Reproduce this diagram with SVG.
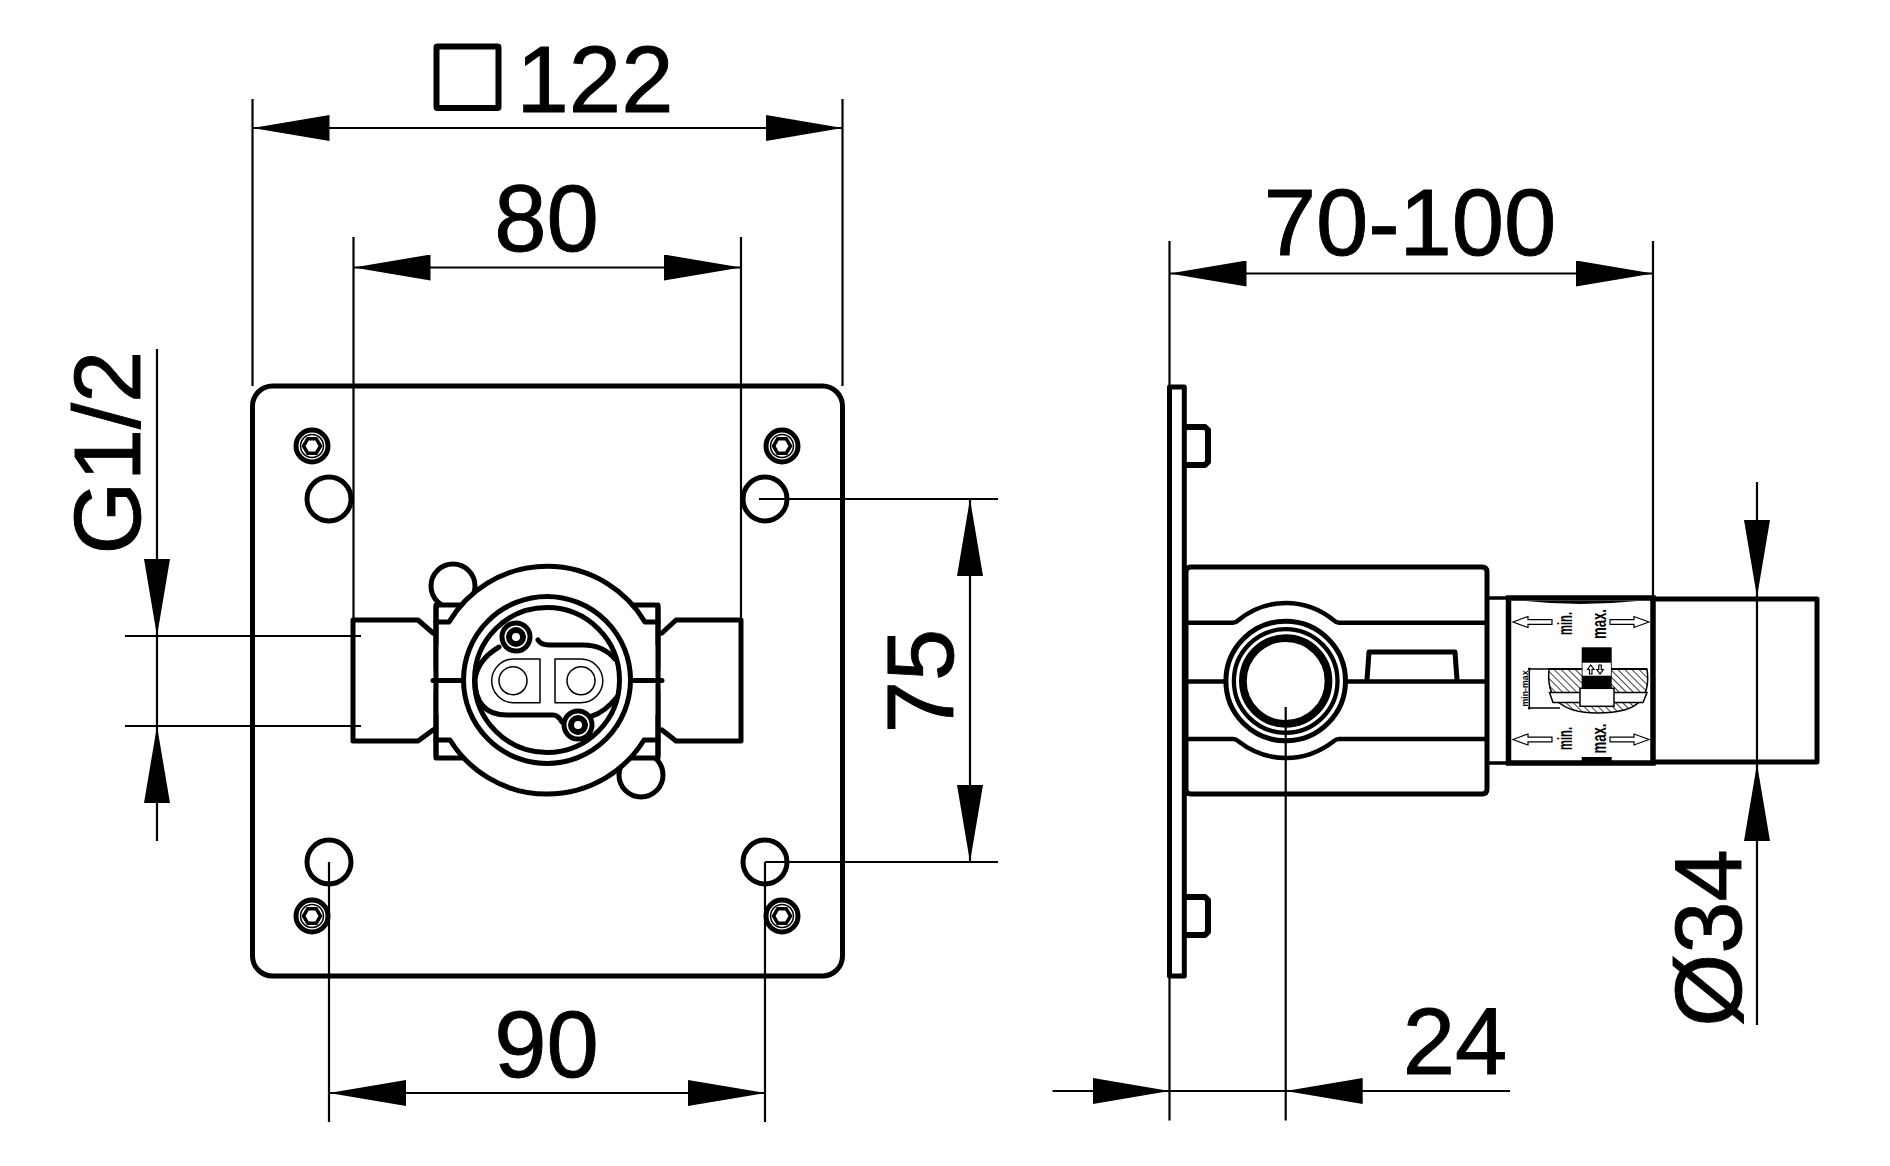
<svg xmlns="http://www.w3.org/2000/svg" width="1890" height="1166" viewBox="0 0 1890 1166">
<style>
.s{fill:none;stroke:#000;stroke-width:5;stroke-linejoin:round;stroke-linecap:round}
.w{fill:#fff;stroke:#000;stroke-width:5;stroke-linejoin:round;stroke-linecap:round}
.t{fill:none;stroke:#000;stroke-width:1.5;stroke-linejoin:round}
.d{fill:none;stroke:#000;stroke-width:2.2}
.a{marker-end:url(#arr)}
.b{marker-start:url(#arr);marker-end:url(#arr)}
.lbl{font-family:"Liberation Sans",Arial,sans-serif;font-size:94px;fill:#000;stroke:#000;stroke-width:.9;text-anchor:middle}
.sm{font-family:"Liberation Sans",Arial,sans-serif;font-size:21px;font-weight:bold;fill:#000;text-anchor:middle}
.ha{fill:#fff;stroke:#000;stroke-width:1.2;stroke-linejoin:miter}
</style>
<defs>
<marker id="arr" markerUnits="userSpaceOnUse" markerWidth="78" markerHeight="26" viewBox="0 0 78 26" refX="77" refY="13" orient="auto-start-reverse"><path d="M0 0L77 13L0 26Z" fill="#000"/></marker>
<pattern id="hatch" patternUnits="userSpaceOnUse" width="5" height="5" patternTransform="rotate(-45)"><rect width="5" height="5" fill="#fff"/><line x1="0" y1="0" x2="0" y2="5" stroke="#000" stroke-width="1.5"/></pattern>
<g id="screw"><circle r="16" class="s"/><circle r="11.500" class="t"/><path d="M-8.500 0L-4.200-7.300H4.200L8.500 0L4.200 7.300H-4.200Z" fill="#fff" stroke="#000" stroke-width="3.500"/></g>
<path id="la" d="M0 0L15-5.500V-2.300H39V2.300H15V5.500Z" class="ha"/>
</defs>
<rect width="1890" height="1166" fill="#fff"/>
<g id="plate">
<rect x="252.500" y="386" width="590" height="590" rx="20" class="s"/>
</g>
<g id="holes">
<circle cx="329" cy="499" r="22" class="s"/><circle cx="765" cy="499" r="22" class="s"/>
<circle cx="329" cy="862" r="22" class="s"/><circle cx="765" cy="862" r="22" class="s"/>
</g>
<g id="screws">
<use href="#screw" x="312" y="446"/><use href="#screw" x="782" y="446"/>
<use href="#screw" x="312" y="916"/><use href="#screw" x="782" y="916"/>
</g>
<g id="valve">
<circle cx="453" cy="586" r="22" class="w"/><circle cx="641" cy="775" r="22" class="w"/>
<path d="M433 633L418 620H353V741H418L433 730" class="w"/>
<path d="M662 633L676 620H741V741H676L662 730" class="w"/>
<path d="M439 605H655Q658 605 658 608V755Q658 758 655 758H439Q436 758 436 755V608Q436 605 439 605Z" class="w"/>
<circle cx="547" cy="680" r="114" fill="#fff"/>
<path d="M436 622H449A114 114 0 0 1 645 622H658M436 740H450A114 114 0 0 0 644 740H658" class="s"/>
<path d="M436 605V758M658 605V758" class="s"/>
<path d="M433 680.500H464M630 680.500H662" class="s"/>
<circle cx="547" cy="680" r="83.500" class="w"/>
<circle cx="547" cy="680" r="72.500" class="w"/>
<path d="M538 640Q541 645 549 645H583Q603 645 615 659M499 647Q477 660 475 680Q475 715 507 715H553Q558 715 562 722M592 716Q605 712 617 697" class="s"/>
<path d="M540 659V702.700H513.500A21.800 21.800 0 0 1 513.500 659Z" class="t"/>
<path d="M555 659V702.700H581A21.800 21.800 0 0 0 581 659Z" class="t"/>
<circle cx="513" cy="680.700" r="14" class="t"/><circle cx="581" cy="680.700" r="14" class="t"/>
<circle cx="516" cy="637" r="14" class="w"/><circle cx="516" cy="637" r="7" fill="#fff" stroke="#000" stroke-width="6"/>
<circle cx="578" cy="725" r="14" class="w"/><circle cx="578" cy="725" r="7" fill="#fff" stroke="#000" stroke-width="6"/>
</g>
<g id="side-plate">
<rect x="1169.500" y="387" width="14.800" height="589" class="s"/>
<path d="M1186 427H1205L1208 430V462L1205 465H1186" class="s" style="stroke-width:6"/>
<path d="M1186 897H1205L1208 900V932L1205 935H1186" class="s" style="stroke-width:6"/>
</g>
<g id="side-body">
<path d="M1487 598H1510M1487 763H1510" class="s" style="stroke-width:3.500"/>
<path d="M1186 572Q1186 567 1191 567H1482Q1487 567 1487 572V789Q1487 794 1482 794H1191Q1186 794 1186 789Z" class="s"/>
<path d="M1186 622.700H1233Q1236 622.700 1238 620.500C1252 609 1268 603 1286 603C1304 603 1320 609 1334 620.500Q1336 622.700 1339 622.700H1485" class="s" style="stroke-width:4.500"/>
<path d="M1186 739H1233Q1236 739 1238 741C1252 752 1268 758 1286 758C1304 758 1320 752 1334 741Q1336 739 1339 739H1485" class="s" style="stroke-width:4.500"/>
<path d="M1186 681.500H1224M1347 681.500H1487" class="s" style="stroke-width:4.500"/>
<path d="M1367 680L1369 652H1455L1457 680" class="s"/>
<circle cx="1285.700" cy="681" r="59.800" fill="#fff" stroke="#000" stroke-width="5"/>
<circle cx="1285.700" cy="681" r="51.800" class="s" style="stroke-width:4.300"/>
<circle cx="1285.700" cy="681" r="42.800" class="s" style="stroke-width:7.700"/>
</g>
<g id="side-sleeve">
<path d="M1655 599H1817V762H1655" class="s"/>
<rect x="1508.500" y="598" width="144.500" height="165" fill="#fff" stroke="#000" stroke-width="5.500"/>
</g>
<g id="sleeve-label">
<path d="M1526 601Q1580 607 1637 601Z" fill="#000"/>
<path d="M1549 669H1647Q1650 690 1640 701Q1630 713 1597 713Q1570 713 1557 701Q1547 690 1549 669Z" fill="url(#hatch)" stroke="#000" stroke-width="1.500"/>
<path d="M1549.500 692.500H1647L1643 702.500H1553Z" fill="#fff" stroke="#000" stroke-width="1.500"/>
<path d="M1548 669H1647" class="d"/>
<rect x="1581.700" y="647.300" width="30" height="41" fill="#000"/>
<rect x="1582.500" y="662.700" width="28.400" height="13" fill="#fff"/>
<rect x="1580" y="688.300" width="34" height="18" fill="#fff" stroke="#000" stroke-width="1.500"/>
<path d="M1590.700 665L1587.500 669.500H1589.500V674H1592V669.500H1594ZM1600 674L1596.800 669.500H1598.800V665H1601.300V669.500H1603.300Z" class="ha"/>
<rect x="1581.700" y="757" width="30" height="5" fill="#000"/>
<path d="M1529.300 669H1549M1529.300 708H1560M1529.300 669V708" class="t"/>
<circle cx="1529.300" cy="669" r="1.500"/><circle cx="1529.300" cy="708" r="1.500"/>
<text transform="translate(1528 688.500) rotate(-90)" class="sm" style="font-size:9px" textLength="36" lengthAdjust="spacingAndGlyphs">min-max</text>
<use href="#la" transform="translate(1513 622)"/>
<use href="#la" transform="translate(1649 622) rotate(180)"/>
<use href="#la" transform="translate(1513 739.500)"/>
<use href="#la" transform="translate(1649 739.500) rotate(180)"/>
<text transform="translate(1571.500 623.500) rotate(-90)" class="sm" textLength="23" lengthAdjust="spacingAndGlyphs">min.</text>
<text transform="translate(1606 624) rotate(-90)" class="sm" textLength="30" lengthAdjust="spacingAndGlyphs">max.</text>
<text transform="translate(1571.500 738.500) rotate(-90)" class="sm" textLength="23" lengthAdjust="spacingAndGlyphs">min.</text>
<text transform="translate(1606 738.500) rotate(-90)" class="sm" textLength="30" lengthAdjust="spacingAndGlyphs">max.</text>
</g>
<g id="connectors">
<path d="M252.500 99V386M842.500 99V386M353.500 237V620M741 237V620M1169.500 241V385M1653 241V598" class="d"/>
<path d="M125 636H361M125 726H361M759 499H998M765 862H998M329 862V1122M765 862V1122M1169.500 976V1120.500M1285.700 707V1120.500" class="d"/>
<line x1="252.500" y1="128" x2="842.500" y2="128" class="d b"/>
<line x1="353.500" y1="267.500" x2="741" y2="267.500" class="d b"/>
<line x1="1169.500" y1="273.500" x2="1653" y2="273.500" class="d b"/>
<line x1="970" y1="499" x2="970" y2="862" class="d b"/>
<line x1="329" y1="1093" x2="765" y2="1093" class="d b"/>
<line x1="157" y1="349" x2="157" y2="636" class="d a"/>
<line x1="157" y1="841" x2="157" y2="726" class="d a"/>
<path d="M157 636V726" class="d"/>
<line x1="1052.500" y1="1091" x2="1169.500" y2="1091" class="d a"/>
<line x1="1510" y1="1091" x2="1285.700" y2="1091" class="d a"/>
<path d="M1169.500 1091H1285.700" class="d"/>
<line x1="1757" y1="482" x2="1757" y2="597" class="d a"/>
<line x1="1757" y1="1025" x2="1757" y2="764" class="d a"/>
<path d="M1757 597V764" class="d"/>
</g>
<g id="labels">
<rect x="436.500" y="46.500" width="62" height="61.500" rx="1" class="s" style="stroke-width:6"/>
<text x="595" y="111.500" class="lbl">122</text>
<text x="546.500" y="251" class="lbl">80</text>
<text x="1410" y="255" class="lbl">70-100</text>
<text x="546.500" y="1077" class="lbl">90</text>
<text x="1455" y="1074" class="lbl">24</text>
<text transform="translate(952.500 681) rotate(-90)" class="lbl">75</text>
<text transform="translate(139.500 452.500) rotate(-90)" class="lbl">G1/2</text>
<text transform="translate(1741 938) rotate(-90)" class="lbl">Ø34</text>
</g>
</svg>
